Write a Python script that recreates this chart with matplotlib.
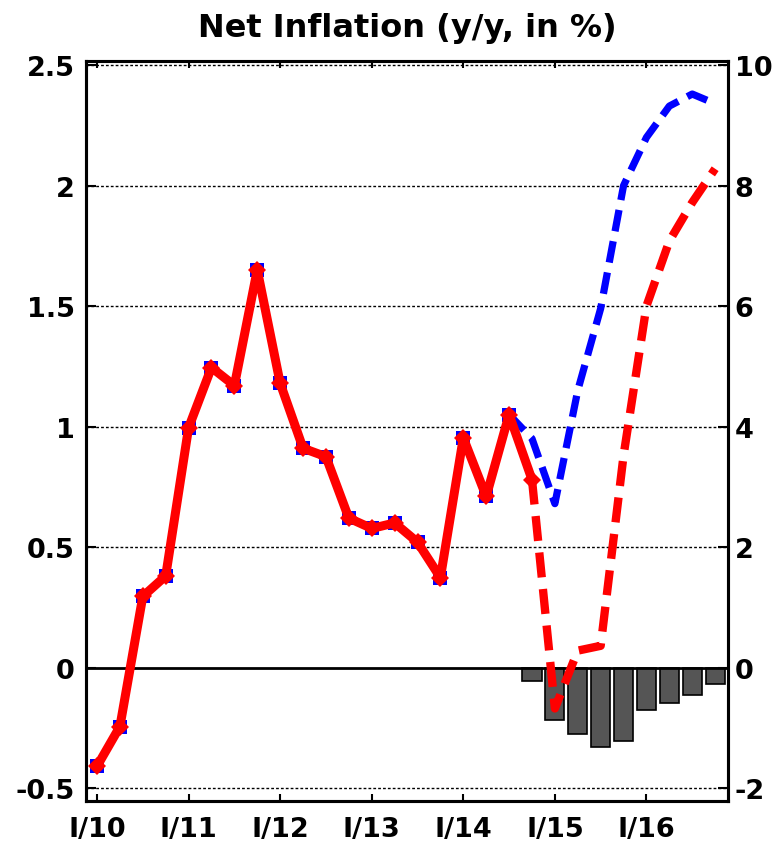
import matplotlib
matplotlib.use("Agg")
import matplotlib.pyplot as plt
import numpy as np

plt.rcParams['font.family'] = ['DejaVu Sans']
plt.rcParams['font.weight'] = 'bold'

# quarter index 0 = I/10
tick_labels = ["I/10", "I/11", "I/12", "I/13", "I/14", "I/15", "I/16"]
tick_pos = [0, 4, 8, 12, 16, 20, 24]

# Red series (actual, then forecast)
red_actual = [-0.41, -0.245, 0.295, 0.38, 0.995, 1.245, 1.17, 1.65, 1.18, 0.91,
              0.875, 0.62, 0.577, 0.60, 0.52, 0.373, 0.953, 0.71, 1.05, 0.78]
red_forecast = [0.78, -0.17, 0.07, 0.09, 0.88, 1.5, 1.77, 1.93, 2.07]

# Blue series (actual with squares, then forecast)
blue_actual = [-0.41, -0.245, 0.295, 0.38, 0.995, 1.245, 1.17, 1.65, 1.18, 0.91,
               0.875, 0.62, 0.577, 0.60, 0.52, 0.373, 0.953, 0.71, 1.05]
blue_forecast = [1.05, 0.95, 0.68, 1.15, 1.49, 2.0, 2.2, 2.33, 2.38, 2.34]

# Bars (difference)
bar_values = [-0.057, -0.216, -0.277, -0.332, -0.307, -0.178, -0.148, -0.116, -0.07]
bar_start = 19

fig = plt.figure(figsize=(7.75, 8.45), dpi=100)
ax = fig.add_axes([0.111, 0.0509, 0.828, 0.8757])

x_ra = np.arange(len(red_actual))
x_rf = np.arange(len(red_forecast)) + 19
x_ba = np.arange(len(blue_actual))
x_bf = np.arange(len(blue_forecast)) + 18
x_bar = np.arange(len(bar_values)) + bar_start

for yv in [-0.5, 0.5, 1.0, 1.5, 2.0, 2.5]:
    ax.axhline(yv, color='black', lw=1.0, ls=(0, (2, 1.5)), zorder=1)

ax.bar(x_bar, bar_values, width=0.84, color='#555555', edgecolor='black', lw=1.2, zorder=2)
ax.axhline(0, color='black', lw=2.0, zorder=3)

ax.plot(x_bf, blue_forecast, color='#0000FF', lw=5.2, ls=(0, (3.0, 1.4)),
        dash_capstyle='butt', zorder=4)
ax.plot(x_ba, blue_actual, color='#0000FF', lw=3, marker='s', markersize=10.5,
        markeredgewidth=0, zorder=5)
ax.plot(x_rf, red_forecast, color='#FF0000', lw=6.0, ls=(0, (3.0, 1.4)),
        dash_capstyle='butt', zorder=6)
ax.plot(x_ra, red_actual, color='#FF0000', lw=6.5, marker='D', markersize=9,
        markeredgewidth=0, zorder=7)

ax.set_xlim(-0.48, 27.55)
ax.set_ylim(-0.554, 2.517)
ax.set_yticks([-0.5, 0, 0.5, 1, 1.5, 2, 2.5])
ax.set_yticklabels(["-0.5", "0", "0.5", "1", "1.5", "2", "2.5"])
ax.set_xticks(tick_pos)
ax.set_xticklabels(tick_labels)

ax.tick_params(axis='x', direction='in', length=5, width=1.5, pad=11,
               labelsize=19.5, top=True)
ax.tick_params(axis='y', direction='in', length=7, width=1.5, pad=8,
               labelsize=19.5)
for s in ax.spines.values():
    s.set_linewidth(2.2)

ax2 = ax.twinx()
ax2.set_ylim(-0.554 * 4, 2.517 * 4)
ax2.set_yticks([-2, 0, 2, 4, 6, 8, 10])
ax2.set_yticklabels(["-2", "0", "2", "4", "6", "8", "10"])
ax2.tick_params(axis='y', direction='in', length=7, width=1.5, pad=5,
                labelsize=19.5)
for s in ax2.spines.values():
    s.set_linewidth(2.2)

ax.set_title("Net Inflation (y/y, in %)", fontsize=23, fontweight='bold', pad=18)

fig.savefig("out.png", dpi=100)
